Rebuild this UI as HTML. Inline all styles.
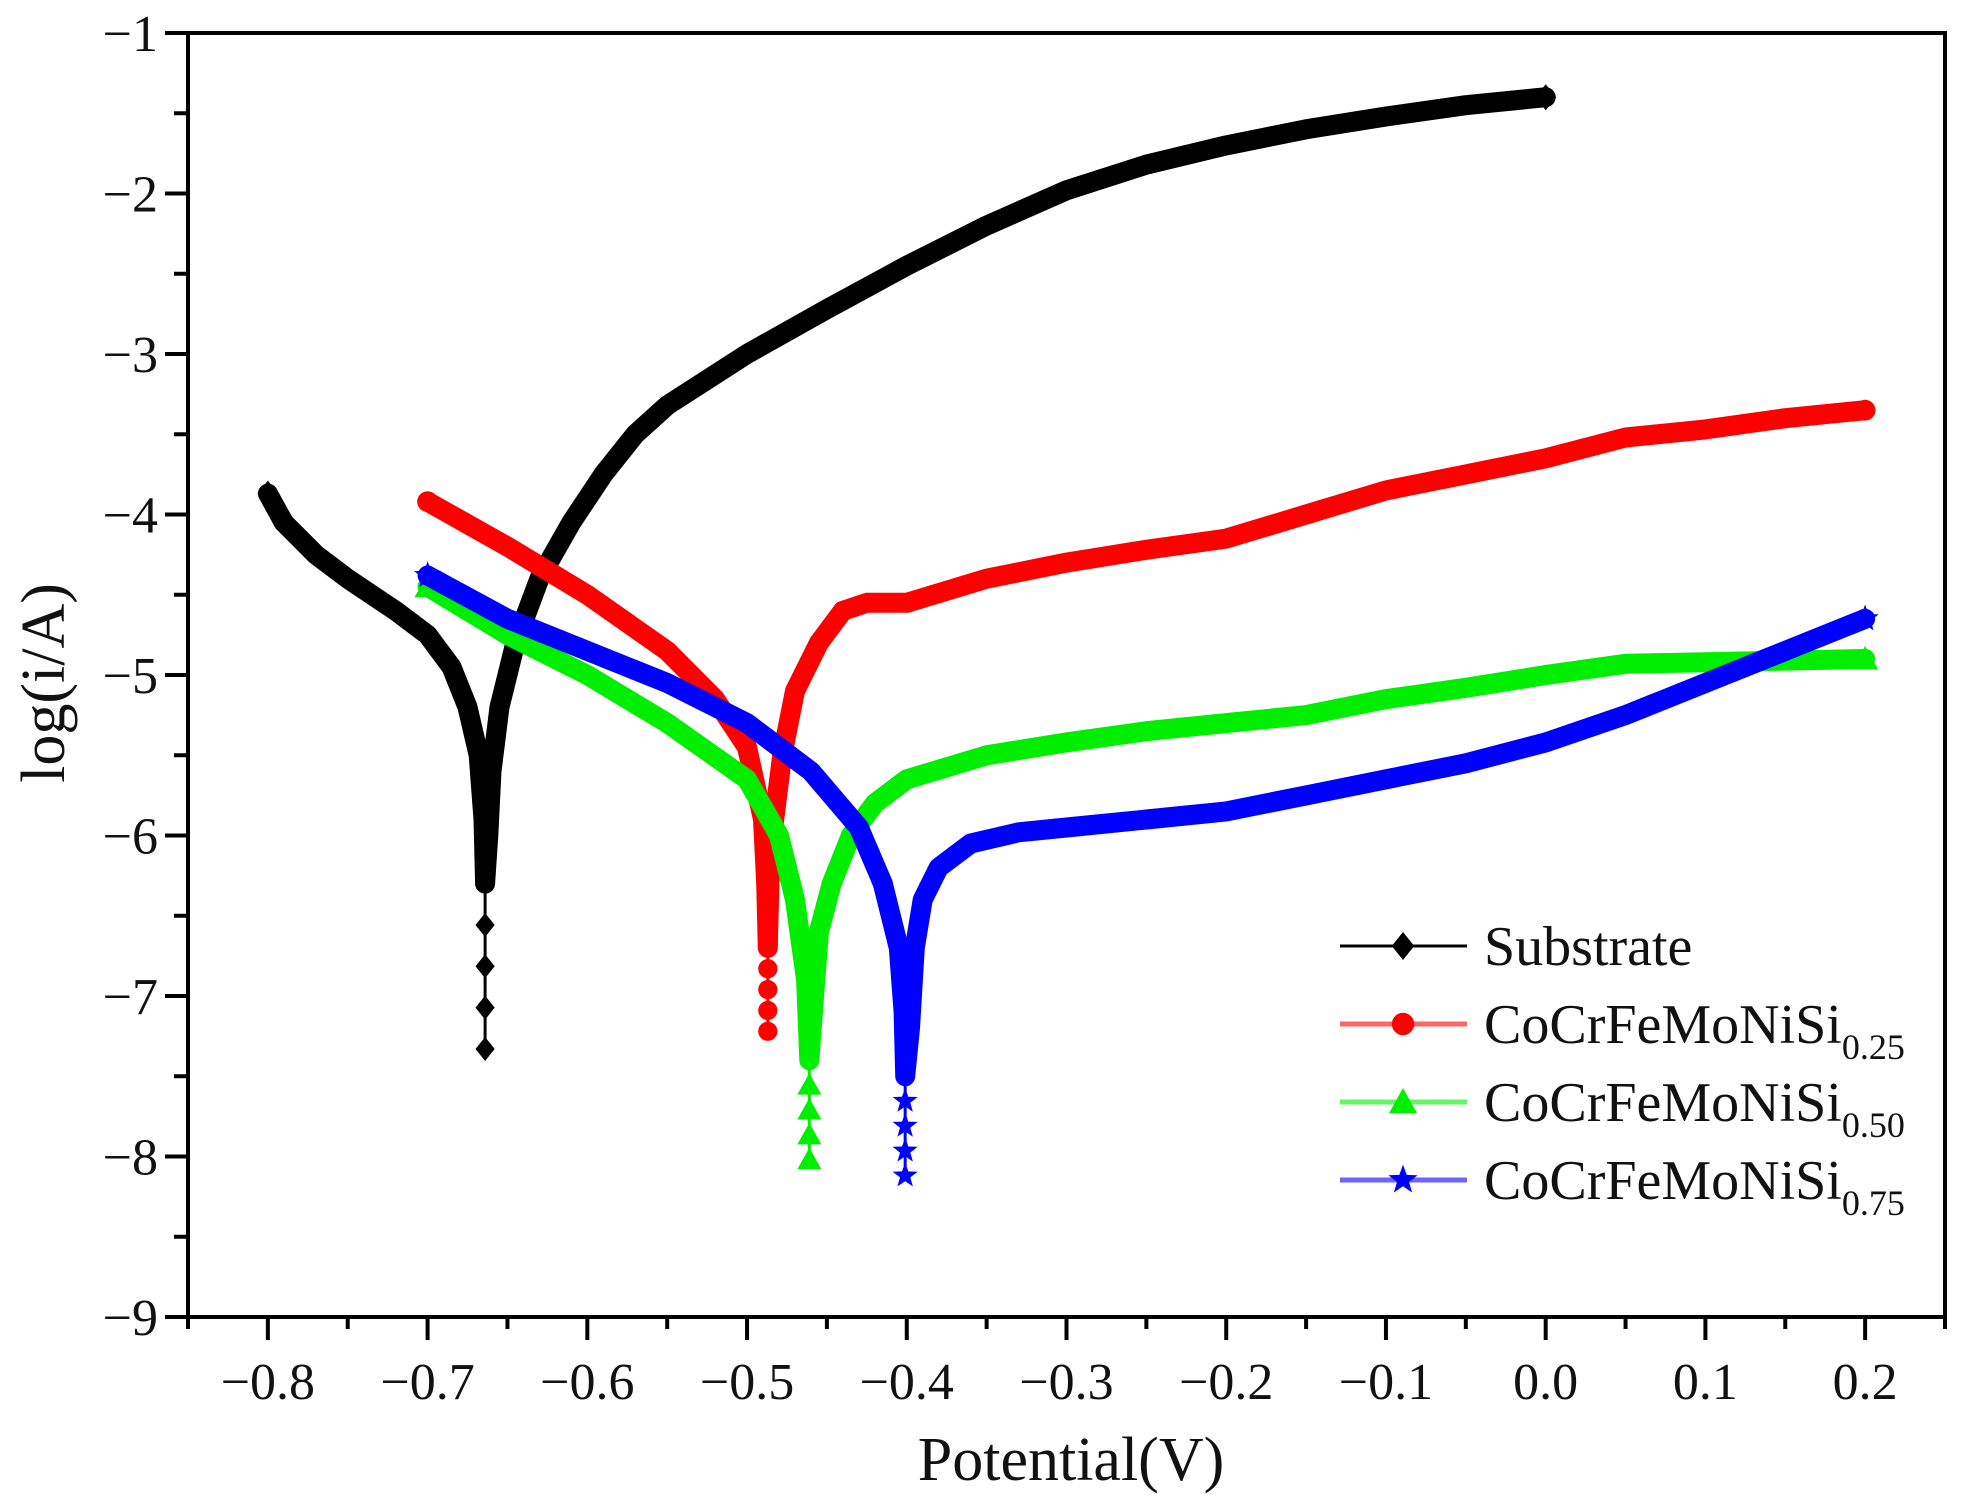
<!DOCTYPE html>
<html><head><meta charset="utf-8"><style>
html,body{margin:0;padding:0;background:#fff;}
svg{display:block;font-family:"Liberation Serif",serif;}
</style></head><body>
<svg id="chart" width="1975" height="1506" viewBox="0 0 1975 1506">
<g id="series"></g>
<g id="axes"></g>
<g id="legend"></g>
</svg>
<script>
const xTicks = [-0.8,-0.7,-0.6,-0.5,-0.4,-0.3,-0.2,-0.1,0.0,0.1,0.2];
const xTickLabels = ["\u22120.8","\u22120.7","\u22120.6","\u22120.5","\u22120.4","\u22120.3","\u22120.2","\u22120.1","0.0","0.1","0.2"];
const yTicks = [-1,-2,-3,-4,-5,-6,-7,-8,-9];
const yTickLabels = ["\u22121","\u22122","\u22123","\u22124","\u22125","\u22126","\u22127","\u22128","\u22129"];
const seriesNames = ["Substrate","CoCrFeMoNiSi","CoCrFeMoNiSi","CoCrFeMoNiSi"];
const seriesSubs = ["","0.25","0.50","0.75"];
const subCathodic = [[-0.80,-3.87],[-0.79,-4.05],[-0.77,-4.25],[-0.75,-4.4],[-0.72,-4.6],[-0.70,-4.75],[-0.685,-4.95],[-0.675,-5.2],[-0.668,-5.5],[-0.665,-5.9],[-0.664,-6.3]];
const subAnodic = [[-0.662,-6.0],[-0.66,-5.6],[-0.655,-5.2],[-0.645,-4.8],[-0.63,-4.4],[-0.61,-4.05],[-0.59,-3.75],[-0.57,-3.5],[-0.55,-3.32],[-0.5,-3.0],[-0.45,-2.72],[-0.4,-2.45],[-0.35,-2.2],[-0.3,-1.98],[-0.25,-1.82],[-0.2,-1.7],[-0.15,-1.6],[-0.1,-1.52],[-0.05,-1.45],[0,-1.4]];
const subTail = [-0.664,-7.33];
const r25Cathodic = [[-0.70,-3.92],[-0.65,-4.2],[-0.6,-4.5],[-0.55,-4.85],[-0.52,-5.15],[-0.5,-5.45],[-0.49,-5.9],[-0.488,-6.3],[-0.487,-6.7]];
const r25Anodic = [[-0.486,-6.3],[-0.483,-5.9],[-0.478,-5.5],[-0.47,-5.1],[-0.455,-4.8],[-0.44,-4.6],[-0.425,-4.55],[-0.4,-4.55],[-0.35,-4.4],[-0.3,-4.3],[-0.25,-4.22],[-0.2,-4.15],[-0.15,-4.0],[-0.1,-3.85],[-0.05,-3.75],[0,-3.65],[0.05,-3.52],[0.1,-3.47],[0.15,-3.4],[0.2,-3.35]];
const r25Tail = [-0.487,-7.22];
const g50Cathodic = [[-0.70,-4.45],[-0.65,-4.75],[-0.6,-5.0],[-0.55,-5.3],[-0.5,-5.65],[-0.48,-6.0],[-0.47,-6.4],[-0.463,-6.9],[-0.461,-7.4]];
const g50Anodic = [[-0.458,-7.0],[-0.455,-6.6],[-0.447,-6.3],[-0.435,-6.0],[-0.42,-5.8],[-0.4,-5.65],[-0.35,-5.5],[-0.3,-5.42],[-0.25,-5.35],[-0.2,-5.3],[-0.15,-5.25],[-0.1,-5.15],[-0.05,-5.08],[0,-5.0],[0.05,-4.93],[0.1,-4.92],[0.2,-4.9]];
const g50Tail = [-0.461,-8.02];
const b75Cathodic = [[-0.70,-4.38],[-0.65,-4.65],[-0.6,-4.85],[-0.55,-5.05],[-0.5,-5.3],[-0.46,-5.6],[-0.43,-5.95],[-0.415,-6.3],[-0.405,-6.7],[-0.402,-7.1],[-0.401,-7.5]];
const b75Anodic = [[-0.398,-7.2],[-0.395,-6.7],[-0.39,-6.4],[-0.38,-6.2],[-0.36,-6.05],[-0.33,-5.98],[-0.3,-5.95],[-0.25,-5.9],[-0.2,-5.85],[-0.15,-5.75],[-0.1,-5.65],[-0.05,-5.55],[0,-5.42],[0.05,-5.25],[0.1,-5.05],[0.15,-4.85],[0.2,-4.65]];
const b75Tail = [-0.401,-8.12];

const NS="http://www.w3.org/2000/svg";
const L=188,R=1945,T=33,B=1317;
const X0=-0.85,X1=0.25,Y0=-9,Y1=-1;
function sx(v){return L+(v-X0)/(X1-X0)*(R-L);}
function sy(v){return B-(v-Y0)/(Y1-Y0)*(B-T);}
function mk(tag,attrs,parent){const e=document.createElementNS(NS,tag);for(const k in attrs)e.setAttribute(k,attrs[k]);parent.appendChild(e);return e;}
const gS=document.getElementById('series'),gA=document.getElementById('axes'),gL=document.getElementById('legend');
const colors=["#000000","#ff0000","#00ee00","#0000ff"];
const shapes=["diamond","circle","triangle","star"];
function marker(shape,x,y,s,color,parent){
  let e;
  if(shape==="diamond") e=mk('polygon',{points:`${x},${y-s} ${x+s*0.8},${y} ${x},${y+s} ${x-s*0.8},${y}`,fill:color},parent);
  else if(shape==="circle") e=mk('circle',{cx:x,cy:y,r:s*0.8,fill:color},parent);
  else if(shape==="triangle") e=mk('polygon',{points:`${x},${y-s} ${x+s},${y+s*0.8} ${x-s},${y+s*0.8}`,fill:color},parent);
  else {let p=[];for(let i=0;i<10;i++){const a=-Math.PI/2+i*Math.PI/5;const r=i%2?s*0.45:s*1.1;p.push((x+r*Math.cos(a)).toFixed(1)+','+(y+r*Math.sin(a)).toFixed(1));}
    e=mk('polygon',{points:p.join(' '),fill:color},parent);}
  return e;
}
const allSeries=[[subCathodic,subAnodic,subTail],[r25Cathodic,r25Anodic,r25Tail],[g50Cathodic,g50Anodic,g50Tail],[b75Cathodic,b75Anodic,b75Tail]];
allSeries.forEach((s,i)=>{
  const g=mk('g',{},gS);
  
  
  const cat=s[0],an=s[1],tail=s[2];
  const last=cat[cat.length-1];
  const tl=mk('line',{x1:sx(last[0]),y1:sy(last[1]),x2:sx(tail[0]),y2:sy(tail[1]),stroke:colors[i],'stroke-width':3},g);
  
  
  for(let k=1;k<=4;k++){const v=last[1]+(tail[1]-last[1])*k/4;
    const m=marker(shapes[i],sx(tail[0]),sy(v),12,colors[i],g);
    
    }
  const pts=cat.concat(an).map(p=>sx(p[0]).toFixed(1)+','+sy(p[1]).toFixed(1)).join(' ');
  const pl=mk('polyline',{points:pts,fill:'none',stroke:colors[i],'stroke-width':20,'stroke-linejoin':'round','stroke-linecap':'round'},g);
  
  
  [cat[0],an[an.length-1]].forEach(p=>{const m=marker(shapes[i],sx(p[0]),sy(p[1]),13,colors[i],g);
    
    });
});
const fr=mk('rect',{x:L,y:T,width:R-L,height:B-T,fill:'none',stroke:'#000','stroke-width':4},gA);


xTicks.forEach((v,i)=>{
  const t=mk('line',{x1:sx(v),y1:B,x2:sx(v),y2:B+23,stroke:'#000','stroke-width':4},gA);
  
  
  const m=mk('line',{x1:sx(v+0.05),y1:B,x2:sx(v+0.05),y2:B+12,stroke:'#000','stroke-width':4},gA);
  
  
  const tx=mk('text',{x:sx(v),y:B+82,'text-anchor':'middle','font-size':52,fill:'#111'},gA);
  tx.textContent=xTickLabels[i];
  
  
});
{const m=mk('line',{x1:sx(-0.85),y1:B,x2:sx(-0.85),y2:B+12,stroke:'#000','stroke-width':4},gA);
 
 }
yTicks.forEach((v,i)=>{
  const t=mk('line',{x1:L-23,y1:sy(v),x2:L,y2:sy(v),stroke:'#000','stroke-width':4},gA);
  
  
  if(v>-9){const m=mk('line',{x1:L-14,y1:sy(v-0.5),x2:L,y2:sy(v-0.5),stroke:'#000','stroke-width':4},gA);
    
    }
  const tx=mk('text',{x:L-30,y:sy(v)+18,'text-anchor':'end','font-size':52,fill:'#111'},gA);
  tx.textContent=yTickLabels[i];
  
  
});
const xt=mk('text',{x:1071,y:1480,'text-anchor':'middle','font-size':62,fill:'#111'},gA);
xt.textContent="Potential(V)";


const yt=mk('text',{x:0,y:0,'text-anchor':'middle','font-size':62,fill:'#111',transform:'translate(64,683) rotate(-90)'},gA);
yt.textContent="log(i/A)";


const legY=[946,1024,1102,1180];
seriesNames.forEach((n,i)=>{
  const g=mk('g',{},gL);
  
  
  mk('line',{x1:1340,y1:legY[i],x2:1467,y2:legY[i],stroke:colors[i],'stroke-width':i===0?3:5,'stroke-opacity':i===0?1:0.6},g);
  marker(shapes[i],1403,legY[i],14,colors[i],g);
  const t=mk('text',{x:1484,y:legY[i]+19,'font-size':56,fill:'#111'},g);
  t.textContent=n;
  if(seriesSubs[i]){const ts=mk('tspan',{'font-size':36,dy:16},t);ts.textContent=seriesSubs[i];}
});
</script>
</body></html>
